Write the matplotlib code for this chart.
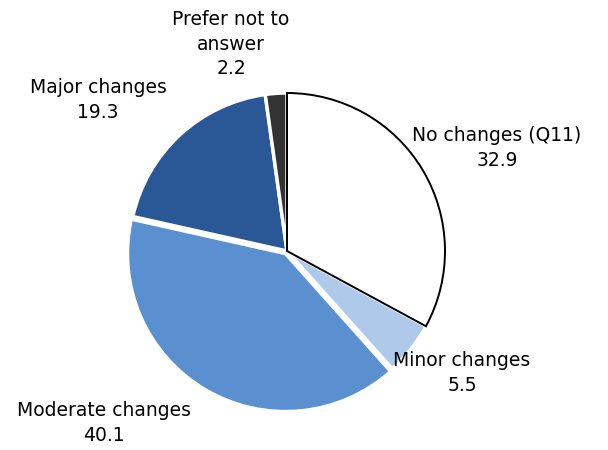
import matplotlib
matplotlib.use('Agg')
import matplotlib.pyplot as plt

labels = ['No changes (Q11)', 'Minor changes', 'Moderate changes', 'Major changes', 'Prefer not to\nanswer']
values = [32.9, 5.5, 40.1, 19.3, 2.2]
colors = ['#ffffff', '#aec9ea', '#5a8fd0', '#2a5795', '#333333']
explode = [0, 0, 3, 0, 0]  # pie explode is in data units here (pixels)

# label centres in pixel coords (x, y from top)
label_pos = [(497, 148), (462, 373), (104, 423), (98, 100), (231, 44)]

fig = plt.figure(figsize=(6.08, 4.5), dpi=100)
ax = fig.add_axes([0, 0, 1, 1])

wedges, _ = ax.pie(values, colors=colors, startangle=90, counterclock=False,
                   explode=explode, center=(287, 450 - 251), radius=158, frame=True,
                   wedgeprops=dict(edgecolor='white', linewidth=2.5))
wedges[0].set_edgecolor('black')
wedges[0].set_linewidth(1.4)
wedges[0].set_zorder(5)
ax.set_xlim(0, 608)
ax.set_ylim(0, 450)
ax.set_aspect('equal')
ax.axis('off')

for lab, val, (x, y) in zip(labels, values, label_pos):
    ax.text(x, 450 - y, '%s\n%.1f' % (lab, val), ha='center', va='center',
            fontsize=13.5, color='black', linespacing=1.35)

fig.savefig('out.png', dpi=100)
